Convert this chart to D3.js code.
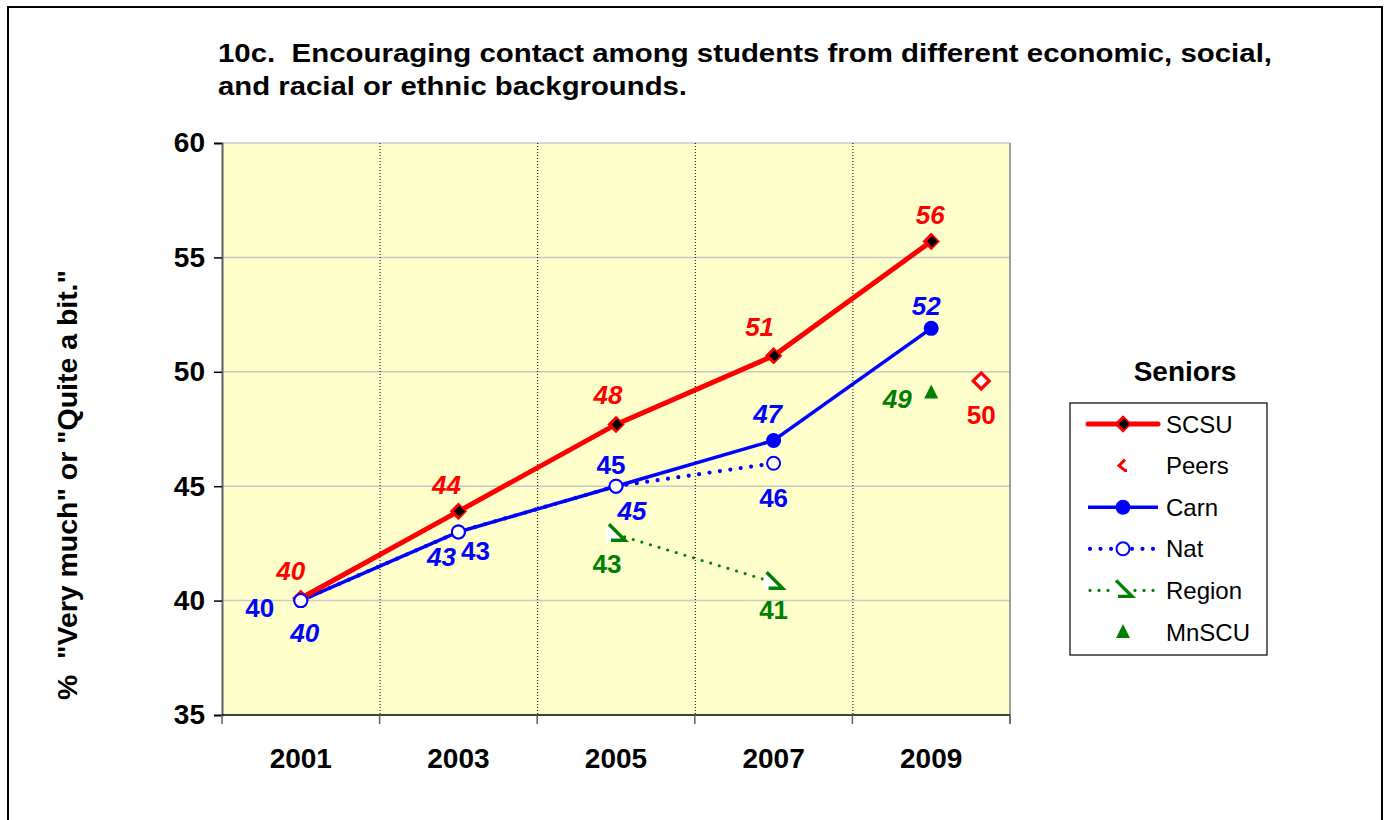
<!DOCTYPE html>
<html>
<head>
<meta charset="utf-8">
<script src="https://cdn.jsdelivr.net/npm/d3@7"></script>
<style>
  html, body { margin: 0; padding: 0; background: #fff; }
  svg { display: block; font-family: "Liberation Sans", Arial, sans-serif; }
</style>
</head>
<body>
<svg id="chart" width="1385" height="820"></svg>
<script>
// ---- data ----
const years = ["2001", "2003", "2005", "2007", "2009"];
const yTicks = [35, 40, 45, 50, 55, 60];
const scsu   = [40.1, 43.9, 47.7, 50.7, 55.7];
const carn   = [40.0, 43.0, 45.0, 47.0, 51.9];
const nat    = [40.0, 43.0, 45.0, 46.0, null];
const region = [null, null, 42.9, 40.8, null];
const mnscu  = [null, null, null, null, 49.1];
const peers  = [null, null, null, null, 49.6];
const titleLines = [
  "10c.\u00a0 Encouraging contact among students from different economic, social,",
  "and racial or ethnic backgrounds."
];
const yTitle = '%\u00a0 "Very much" or "Quite a bit."';
const legendTitle = "Seniors";

// ---- layout ----
const svg = d3.select("#chart");
const plot = { left: 222, right: 1010, top: 143, bottom: 715 };
const RED = "#ff0000", BLUE = "#0000ff", GREEN = "#008000";

const x = d3.scaleBand().domain(years).range([plot.left, plot.right]).padding(0);
const cx = d => x(d) + x.bandwidth() / 2;
const y = d3.scaleLinear().domain([35, 60]).range([plot.bottom, plot.top]);

// outer frame
svg.append("rect").attr("x", 8).attr("y", 7).attr("width", 1374).attr("height", 830)
  .attr("fill", "#fff").attr("stroke", "#000").attr("stroke-width", 2);

// title (two lines, widened to the chart's title box)
const titleWidths = [1054, 469];
svg.append("g").selectAll("text").data(titleLines).join("text")
  .attr("x", 218).attr("y", (d, i) => 62 + i * 33)
  .attr("font-size", 26).attr("font-weight", "bold").attr("fill", "#000")
  .attr("textLength", (d, i) => titleWidths[i]).attr("lengthAdjust", "spacingAndGlyphs")
  .text(d => d);

// plot background
svg.append("rect").attr("x", plot.left).attr("y", plot.top)
  .attr("width", plot.right - plot.left).attr("height", plot.bottom - plot.top)
  .attr("fill", "#ffffcc");

// horizontal gridlines
svg.append("g").selectAll("line").data(yTicks.filter(t => t > 35)).join("line")
  .attr("x1", plot.left).attr("x2", plot.right)
  .attr("y1", d => y(d)).attr("y2", d => y(d))
  .attr("stroke", "#c8c8c8").attr("stroke-width", 1.5);

// vertical dotted separators between categories
svg.append("g").selectAll("line").data(years.slice(1)).join("line")
  .attr("x1", d => x(d) + 0.5).attr("x2", d => x(d) + 0.5)
  .attr("y1", plot.top).attr("y2", plot.bottom)
  .attr("stroke", "#000").attr("stroke-width", 1).attr("stroke-dasharray", "1,2");

// right border of the plot
svg.append("line").attr("x1", plot.right).attr("x2", plot.right)
  .attr("y1", plot.top).attr("y2", plot.bottom + 9)
  .attr("stroke", "#808080").attr("stroke-width", 1.5);

// y axis
const yAxis = d3.axisLeft(y).tickValues(yTicks).tickSize(8).tickPadding(9);
const gy = svg.append("g").attr("transform", `translate(${plot.left},0)`).call(yAxis);
gy.select(".domain").attr("stroke", "#606060").attr("stroke-width", 2);
gy.selectAll(".tick line").attr("stroke", "#000").attr("stroke-width", 1.5);
gy.selectAll(".tick text").attr("font-size", 28).attr("font-weight", "bold")
  .attr("fill", "#000").attr("font-family", "Liberation Sans, Arial, sans-serif");

// x axis: baseline, boundary ticks, centered year labels
svg.append("line").attr("x1", plot.left).attr("x2", plot.right)
  .attr("y1", plot.bottom).attr("y2", plot.bottom)
  .attr("stroke", "#000").attr("stroke-width", 1.5);
const bounds = years.map(d => x(d)).concat([plot.right]);
svg.append("g").selectAll("line").data(bounds).join("line")
  .attr("x1", d => d).attr("x2", d => d)
  .attr("y1", plot.bottom).attr("y2", plot.bottom + 9)
  .attr("stroke", "#606060").attr("stroke-width", 1.5);
svg.append("g").selectAll("text").data(years).join("text")
  .attr("x", d => cx(d)).attr("y", 768)
  .attr("text-anchor", "middle").attr("font-size", 28).attr("font-weight", "bold")
  .text(d => d);

// y axis title
svg.append("text")
  .attr("transform", "translate(77,485) rotate(-90)")
  .attr("text-anchor", "middle").attr("font-size", 27).attr("font-weight", "bold")
  .attr("textLength", 430).attr("lengthAdjust", "spacingAndGlyphs")
  .text(yTitle);

// ---- series ----
const pts = vals => years.map((yr, i) => ({ yr, v: vals[i] })).filter(p => p.v != null);
const line = d3.line().x(p => cx(p.yr)).y(p => y(p.v));

const layer = svg.append("g");

// Region (dotted green)
layer.append("path").datum(pts(region)).attr("d", line)
  .attr("fill", "none").attr("stroke", GREEN).attr("stroke-width", 3.2)
  .attr("stroke-linecap", "round").attr("stroke-dasharray", "0,9");

// Nat (dotted blue)
layer.append("path").datum(pts(nat)).attr("d", line)
  .attr("fill", "none").attr("stroke", BLUE).attr("stroke-width", 4.2)
  .attr("stroke-linecap", "round").attr("stroke-dasharray", "0,10.5");

// Carn (solid blue)
layer.append("path").datum(pts(carn)).attr("d", line)
  .attr("fill", "none").attr("stroke", BLUE).attr("stroke-width", 3.5);

// SCSU (solid red, thick)
layer.append("path").datum(pts(scsu)).attr("d", line)
  .attr("fill", "none").attr("stroke", RED).attr("stroke-width", 5);

// marker helpers
function diamond(g, px, py, fill, stroke, r) {
  g.append("path")
    .attr("d", `M${px},${py - r}L${px + r},${py}L${px},${py + r}L${px - r},${py}Z`)
    .attr("fill", fill).attr("stroke", stroke).attr("stroke-width", 3.2);
}
function scsuMarker(g, px, py) {
  diamond(g, px, py, RED, RED, 6.5);
  g.append("path")
    .attr("d", `M${px + 1},${py - 5.5}L${px + 6.5},${py}L${px + 1},${py + 5.5}L${px - 4.5},${py}Z`)
    .attr("fill", "#000");
}
function regionMarker(g, px, py) {
  g.append("path")
    .attr("d", `M${px - 10},${py - 10}L${px + 10},${py + 7}L${px - 10},${py + 7}Z`)
    .attr("fill", "#fff").attr("stroke", "none");
  g.append("path")
    .attr("d", `M${px - 7},${py - 10}L${px + 9},${py + 6}L${px - 5},${py + 6}`)
    .attr("fill", "none").attr("stroke", GREEN).attr("stroke-width", 3.4);
}
function triMarker(g, px, py, color) {
  g.append("path")
    .attr("d", `M${px},${py - 8}L${px + 7},${py + 6}L${px - 7},${py + 6}Z`)
    .attr("fill", color);
}

const mk = svg.append("g");
pts(region).forEach(p => regionMarker(mk, cx(p.yr), y(p.v)));
pts(carn).forEach(p => mk.append("circle").attr("cx", cx(p.yr)).attr("cy", y(p.v))
  .attr("r", 7.5).attr("fill", BLUE));
pts(scsu).forEach(p => scsuMarker(mk, cx(p.yr), y(p.v)));
pts(nat).forEach(p => mk.append("circle").attr("cx", cx(p.yr)).attr("cy", y(p.v))
  .attr("r", 6.5).attr("fill", "#fff").attr("stroke", BLUE).attr("stroke-width", 2));
pts(mnscu).forEach(p => triMarker(mk, cx(p.yr), y(p.v), GREEN));
// Peers sits just to the right of the last category
const peersShift = 50;
pts(peers).forEach(p => diamond(mk, cx(p.yr) + peersShift, y(p.v), "#fff", RED, 8));

// ---- value labels ----
const labelStyle = {
  scsu:   { vals: scsu,   color: RED,   italic: true,
            off: [[-10, -28], [-12, -27], [-8, -30], [-14, -29], [-1, -27]] },
  carn:   { vals: carn,   color: BLUE,  italic: true,
            off: [[4, 32], [-17, 25], [16, 24], [-6, -27], [-5, -23]] },
  nat:    { vals: nat,    color: BLUE,  italic: false,
            off: [[-41, 7], [17, 19], [-5, -22], [0, 34], null] },
  region: { vals: region, color: GREEN, italic: false,
            off: [null, null, [-9, 29], [0, 27], null] },
  mnscu:  { vals: mnscu,  color: GREEN, italic: true,
            off: [null, null, null, null, [-34, 6]] },
  peers:  { vals: peers,  color: RED,   italic: false, shift: peersShift,
            off: [null, null, null, null, [0, 34]] }
};
const lab = svg.append("g");
Object.values(labelStyle).forEach(s => {
  s.vals.forEach((v, i) => {
    if (v == null) return;
    const [dx, dy] = s.off[i];
    lab.append("text")
      .attr("x", cx(years[i]) + (s.shift || 0) + dx)
      .attr("y", y(v) + dy)
      .attr("dy", "0.36em")
      .attr("text-anchor", "middle")
      .attr("font-size", 26).attr("font-weight", "bold")
      .attr("font-style", s.italic ? "italic" : "normal")
      .attr("fill", s.color)
      .text(d3.format(".0f")(v));
  });
});

// ---- legend ----
svg.append("text").attr("x", 1185).attr("y", 381).attr("text-anchor", "middle")
  .attr("font-size", 28).attr("font-weight", "bold").text(legendTitle);
const lg = svg.append("g");
lg.append("rect").attr("x", 1070).attr("y", 403).attr("width", 197).attr("height", 252)
  .attr("fill", "#fff").attr("stroke", "#000").attr("stroke-width", 1.2);
const legendItems = ["SCSU", "Peers", "Carn", "Nat", "Region", "MnSCU"];
const ly = i => 424 + i * 41.6;
const lx0 = 1088, lx1 = 1158, lmx = 1123;
legendItems.forEach((name, i) => {
  const py = ly(i);
  if (name === "SCSU") {
    lg.append("line").attr("x1", lx0).attr("x2", lx1).attr("y1", py).attr("y2", py)
      .attr("stroke", RED).attr("stroke-width", 5).attr("stroke-linecap", "round");
    scsuMarker(lg, lmx, py);
  } else if (name === "Peers") {
    lg.append("path")
      .attr("d", `M${lmx + 2},${py - 6}L${lmx - 4},${py}L${lmx + 2},${py + 5}L${lmx + 4},${py + 5}`)
      .attr("fill", "none").attr("stroke", RED).attr("stroke-width", 3);
  } else if (name === "Carn") {
    lg.append("line").attr("x1", lx0).attr("x2", lx1).attr("y1", py).attr("y2", py)
      .attr("stroke", BLUE).attr("stroke-width", 3.5);
    lg.append("circle").attr("cx", lmx).attr("cy", py).attr("r", 7.5).attr("fill", BLUE);
  } else if (name === "Nat") {
    lg.append("line").attr("x1", lx0 + 2).attr("x2", lx1).attr("y1", py).attr("y2", py)
      .attr("stroke", BLUE).attr("stroke-width", 4.2).attr("stroke-linecap", "round")
      .attr("stroke-dasharray", "0,10.5");
    lg.append("circle").attr("cx", lmx).attr("cy", py).attr("r", 6.5)
      .attr("fill", "#fff").attr("stroke", BLUE).attr("stroke-width", 2);
  } else if (name === "Region") {
    lg.append("line").attr("x1", lx0 + 2).attr("x2", lx1).attr("y1", py).attr("y2", py)
      .attr("stroke", GREEN).attr("stroke-width", 3.2).attr("stroke-linecap", "round")
      .attr("stroke-dasharray", "0,9");
    regionMarker(lg, lmx, py);
  } else if (name === "MnSCU") {
    triMarker(lg, lmx, py, GREEN);
  }
  lg.append("text").attr("x", 1166).attr("y", py).attr("dy", "0.36em")
    .attr("font-size", 24).attr("fill", "#000").text(name);
});
</script>
</body>
</html>
